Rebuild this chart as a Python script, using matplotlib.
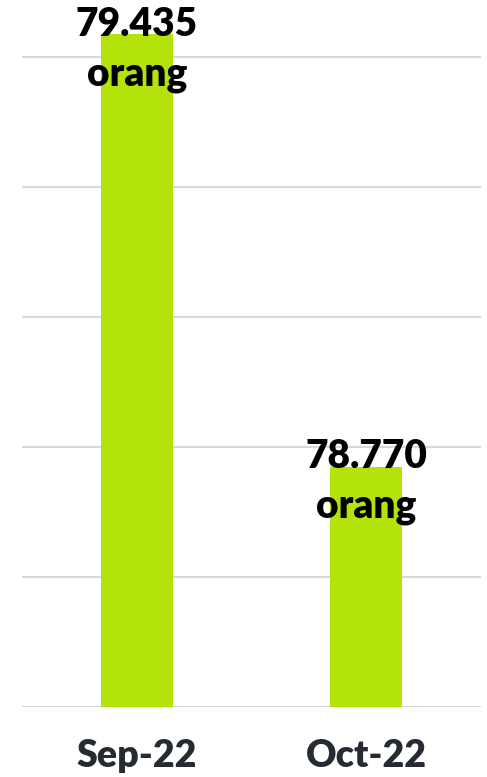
import matplotlib
matplotlib.use("Agg")
import matplotlib.pyplot as plt
from matplotlib.ticker import MultipleLocator
import matplotlib.transforms as mtransforms

categories = ["Sep-22", "Oct-22"]
values = [79435, 78770]
labels = ["79.435\norang", "78.770\norang"]

W, H, DPI = 487, 777, 100
fig = plt.figure(figsize=(W / DPI, H / DPI), dpi=DPI)
ax = fig.add_axes([22 / W, (H - 707) / H, (481 - 22) / W, 707 / H])

x = list(range(len(categories)))
ax.bar(x, values, width=0.314, color="#b3e30a", zorder=2)
ax.set_xlim(-0.5, 1.5)
ax.set_ylim(78400, 78400 + 707 / 0.65)
ax.yaxis.set_major_locator(MultipleLocator(200))
ax.grid(axis="y", color="#d9d9d9", linewidth=1.5, zorder=1)
ax.set_yticklabels([])
ax.tick_params(axis="y", length=0)
ax.tick_params(axis="x", length=0, pad=23)
for s in ax.spines.values():
    s.set_visible(False)
ax.set_xticks(x)
ax.set_xticklabels(categories, fontsize=27, fontweight="heavy", color="#262a33",
                   family="Lato")

for xi, v, lab in zip(x, values, labels):
    off = mtransforms.offset_copy(ax.transData, fig=fig, x=0, y=-15, units="dots")
    ax.text(xi, v, lab, transform=off, ha="center", va="center",
            fontsize=28, fontweight="heavy", color="black", family="Lato",
            linespacing=1.4, zorder=3, clip_on=False)

fig.savefig("out.png", dpi=DPI)
